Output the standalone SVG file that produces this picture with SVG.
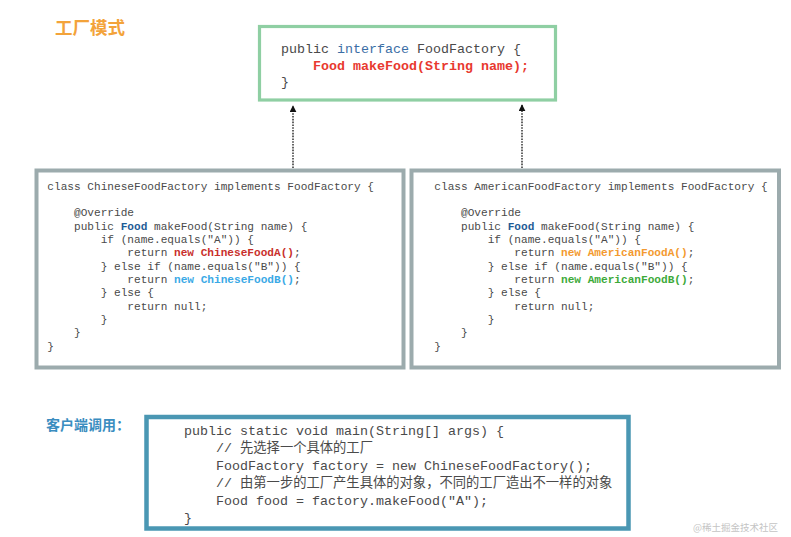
<svg xmlns="http://www.w3.org/2000/svg" width="791" height="537" viewBox="0 0 791 537">
<defs>
<style>
.code{font-family:"Liberation Mono","Noto Sans CJK SC",monospace;fill:#4a4a4a;}
.top{font-size:13.33px;}
.sm{font-size:11.11px;}
.b{font-weight:bold;}
.cjk{font-family:"Noto Sans CJK SC",sans-serif;font-size:13.3px;}
.title{font-family:"Noto Sans CJK SC",sans-serif;font-weight:bold;}
.box{fill:#ffffff;}
.conn{stroke:#222;stroke-width:1.4;stroke-dasharray:1.6 1.2;fill:none;}
</style>
<marker id="ah" viewBox="0 0 10 10" refX="9" refY="5" markerWidth="7" markerHeight="7" markerUnits="userSpaceOnUse" orient="auto">
<path d="M0,0 L10,5 L0,10 z" fill="#111"/>
</marker>
</defs>
<rect width="791" height="537" fill="#ffffff"/>

<text class="title" x="55" y="34" font-size="17.5" fill="#f3a33a">工厂模式</text>

<g id="connectors">
<line class="conn" x1="293" y1="168" x2="293" y2="106" marker-end="url(#ah)"/>
<line class="conn" x1="522" y1="168" x2="522" y2="105" marker-end="url(#ah)"/>
</g>

<g id="FoodFactory">
<rect class="box" x="259.5" y="26.5" width="296" height="73.5" stroke="#8fcfa3" stroke-width="3.2"/>
<text class="code top" x="281" y="53">public <tspan style="fill:#3b6ea5">interface</tspan> FoodFactory {</text>
<text class="code top b" x="313" y="69.5" style="fill:#e8392f">Food makeFood(String name);</text>
<text class="code top" x="281" y="86">}</text>
</g>

<g id="ChineseFoodFactory">
<rect class="box" x="36.5" y="170.5" width="367" height="197" stroke="#9cabad" stroke-width="4"/>
<text class="code sm" x="47.3" y="189.5">class ChineseFoodFactory implements FoodFactory {</text>
<text class="code sm" x="74" y="216">@Override</text>
<text class="code sm" x="74" y="229.5">public <tspan class="b" style="fill:#1e5b96">Food</tspan> makeFood(String name) {</text>
<text class="code sm" x="100.7" y="243">if (name.equals("A")) {</text>
<text class="code sm" x="127.3" y="256.3">return <tspan class="b" style="fill:#c9302c">new ChineseFoodA()</tspan>;</text>
<text class="code sm" x="100.7" y="269.7">} else if (name.equals("B")) {</text>
<text class="code sm" x="127.3" y="283">return <tspan class="b" style="fill:#3aa9e6">new ChineseFoodB()</tspan>;</text>
<text class="code sm" x="100.7" y="296.3">} else {</text>
<text class="code sm" x="127.3" y="309.7">return null;</text>
<text class="code sm" x="100.7" y="323">}</text>
<text class="code sm" x="74" y="336.3">}</text>
<text class="code sm" x="47.3" y="349.7">}</text>
</g>

<g id="AmericanFoodFactory">
<rect class="box" x="411.5" y="170.5" width="367.5" height="197" stroke="#9cabad" stroke-width="4"/>
<text class="code sm" x="434.3" y="189.5">class AmericanFoodFactory implements FoodFactory {</text>
<text class="code sm" x="461" y="216">@Override</text>
<text class="code sm" x="461" y="229.5">public <tspan class="b" style="fill:#1e5b96">Food</tspan> makeFood(String name) {</text>
<text class="code sm" x="487.7" y="243">if (name.equals("A")) {</text>
<text class="code sm" x="514.3" y="256.3">return <tspan class="b" style="fill:#f39a30">new AmericanFoodA()</tspan>;</text>
<text class="code sm" x="487.7" y="269.7">} else if (name.equals("B")) {</text>
<text class="code sm" x="514.3" y="283">return <tspan class="b" style="fill:#3daa3a">new AmericanFoodB()</tspan>;</text>
<text class="code sm" x="487.7" y="296.3">} else {</text>
<text class="code sm" x="514.3" y="309.7">return null;</text>
<text class="code sm" x="487.7" y="323">}</text>
<text class="code sm" x="461" y="336.3">}</text>
<text class="code sm" x="434.3" y="349.7">}</text>
</g>

<text class="title" x="46" y="430" font-size="14" fill="#3a8dc0">客户端调用：</text>

<g id="client">
<rect class="box" x="146.5" y="417" width="482" height="111.5" stroke="#4a97b3" stroke-width="4.5"/>
<text class="code top" x="184" y="434.5">public static void main(String[] args) {</text>
<text class="code top" x="216" y="452">// <tspan class="cjk">先选择一个具体的工厂</tspan></text>
<text class="code top" x="216" y="469.5">FoodFactory factory = new ChineseFoodFactory();</text>
<text class="code top" x="216" y="487">// <tspan class="cjk">由第一步的工厂产生具体的对象，不同的工厂造出不一样的对象</tspan></text>
<text class="code top" x="216" y="504.5">Food food = factory.makeFood("A");</text>
<text class="code top" x="184" y="522">}</text>
</g>

<text x="693" y="531" font-family="'Noto Sans CJK SC',sans-serif" font-size="9.5" fill="#c4c4c4">@稀土掘金技术社区</text>
</svg>
